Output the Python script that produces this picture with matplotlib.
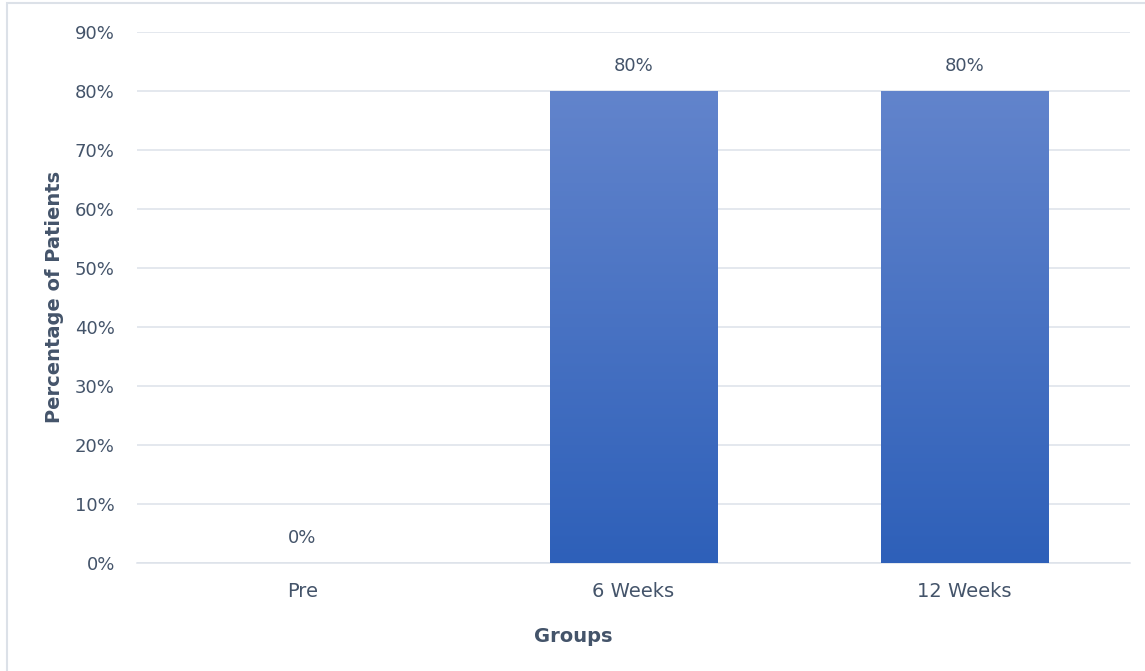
import numpy as np
import matplotlib
matplotlib.use("Agg")
import matplotlib.pyplot as plt
from matplotlib.colors import LinearSegmentedColormap
from matplotlib.patches import Rectangle

categories = ["Pre", "6 Weeks", "12 Weeks"]
values = [0.0, 0.80, 0.80]
y_ticks = [0.0, 0.1, 0.2, 0.3, 0.4, 0.5, 0.6, 0.7, 0.8, 0.9]
y_tick_labels = ["0%", "10%", "20%", "30%", "40%", "50%", "60%", "70%", "80%", "90%"]
x_title = "Groups"
y_title = "Percentage of Patients"

text_color = "#44546A"
grid_color = "#DDE2EA"
plt.rcParams["font.family"] = ["DejaVu Sans"]

fig = plt.figure(figsize=(11.45, 6.71), dpi=100)
ax = fig.add_axes([137 / 1145, 1 - 563 / 671, (1130 - 137) / 1145, (563 - 32) / 671])

x = np.arange(len(categories))
bar_w = 0.505
ax.set_xlim(-0.5, len(categories) - 0.5)
ax.set_ylim(0, 0.9)

# vertical gradient fill, lighter at the top
cmap = LinearSegmentedColormap.from_list("bar", ["#2E60B9", "#6284CC"])
grad = np.linspace(0, 1, 256).reshape(-1, 1)
bars = ax.bar(x, values, width=bar_w, color="none", edgecolor="none", zorder=3)
for rect, v in zip(bars, values):
    if v <= 0:
        continue
    x0 = rect.get_x()
    im = ax.imshow(grad, cmap=cmap, origin="lower", aspect="auto",
                   extent=[x0, x0 + rect.get_width(), 0, v], zorder=3)
    clip = Rectangle((x0, 0), rect.get_width(), v, transform=ax.transData)
    im.set_clip_path(clip)

for xi, v in zip(x, values):
    ax.annotate(f"{v * 100:.0f}%", (xi, v), xytext=(0, 18), textcoords="offset points",
                ha="center", va="center", fontsize=13, color=text_color)

ax.set_yticks(y_ticks)
ax.set_yticklabels(y_tick_labels)
ax.set_xticks(x)
ax.set_xticklabels(categories)
ax.tick_params(axis="both", length=0, labelcolor=text_color)
ax.tick_params(axis="y", pad=16, labelsize=13)
ax.tick_params(axis="x", pad=14, labelsize=14)
ax.grid(axis="y", color=grid_color, linewidth=1.1, zorder=0)
ax.set_axisbelow(True)
for s in ["top", "right", "left"]:
    ax.spines[s].set_visible(False)
ax.spines["bottom"].set_color(grid_color)
ax.spines["bottom"].set_linewidth(1.1)

fig.text(55 / 1145, 1 - 297 / 671, y_title, ha="center", va="center", rotation=90,
         fontsize=14, fontweight="bold", color=text_color)
fig.text(573 / 1145, 1 - 637 / 671, x_title, ha="center", va="center",
         fontsize=14, fontweight="bold", color=text_color)

# thin frame around the chart area
frame = Rectangle((6.5 / 1145, -0.01), 1.02, 1 - 2.5 / 671 + 0.01, transform=fig.transFigure,
                  fill=False, edgecolor="#DCE1E8", linewidth=1.5)
fig.add_artist(frame)

fig.savefig("out.png", dpi=100, facecolor="white")
